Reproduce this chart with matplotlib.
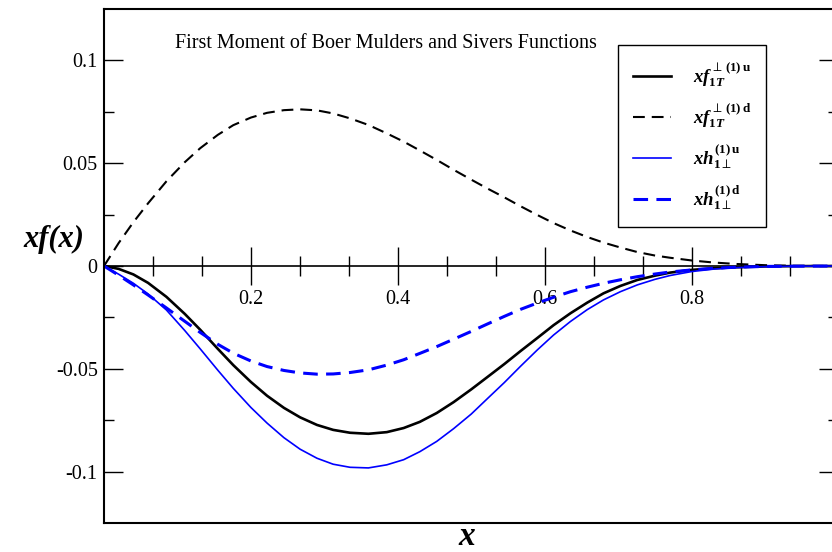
import numpy as np
import matplotlib
matplotlib.use("Agg")
import matplotlib.pyplot as plt
from matplotlib.ticker import FixedLocator

plt.rcParams['font.family'] = ['Liberation Serif', 'DejaVu Serif']
plt.rcParams['mathtext.fontset'] = 'custom'
plt.rcParams['mathtext.it'] = 'Liberation Serif:italic:bold'
plt.rcParams['mathtext.rm'] = 'Liberation Serif:bold'
plt.rcParams['mathtext.bf'] = 'Liberation Serif:bold'
plt.rcParams['lines.scale_dashes'] = False

# values
x = [0, 0.02, 0.04, 0.06, 0.085, 0.11, 0.131, 0.155, 0.176, 0.2, 0.222, 0.245,
     0.267, 0.29, 0.312, 0.335, 0.36, 0.385, 0.408, 0.43, 0.453, 0.476, 0.5,
     0.522, 0.545, 0.567, 0.59, 0.612, 0.635, 0.658, 0.68, 0.703, 0.726, 0.75,
     0.771, 0.8, 0.83, 0.86, 0.9, 0.94, 1.0]

f1t_u = [0, -0.0014, -0.0041, -0.0082, -0.0150, -0.0233, -0.0310, -0.0403, -0.0482,
         -0.0564, -0.0631, -0.0690, -0.0736, -0.0773, -0.0797, -0.0811, -0.0816,
         -0.0808, -0.0788, -0.0758, -0.0715, -0.0662, -0.0600, -0.0540, -0.0477,
         -0.0414, -0.0350, -0.0288, -0.0230, -0.0178, -0.0133, -0.0097, -0.0068,
         -0.0047, -0.0032, -0.0019, -0.0011, -0.0006, -0.0002, -0.00005, 0]

f1t_d = [0, 0.0112, 0.0213, 0.0305, 0.0412, 0.0505, 0.0573, 0.0638, 0.0685, 0.0722,
         0.0745, 0.0758, 0.0762, 0.0757, 0.0742, 0.0718, 0.0686, 0.0645, 0.0605,
         0.0562, 0.0516, 0.0468, 0.0420, 0.0377, 0.0334, 0.0291, 0.0248, 0.0209,
         0.0173, 0.0141, 0.0114, 0.0090, 0.0068, 0.0051, 0.0040, 0.0027, 0.0017,
         0.0010, 0.0004, 0.0001, 0]

h1_u = [0, -0.0040, -0.0084, -0.0136, -0.0214, -0.0314, -0.0403, -0.0507, -0.0595,
        -0.0688, -0.0764, -0.0835, -0.0891, -0.0935, -0.0964, -0.0979, -0.0982,
        -0.0967, -0.0942, -0.0903, -0.0853, -0.0791, -0.0720, -0.0645, -0.0567,
        -0.0488, -0.0408, -0.0336, -0.0270, -0.0212, -0.0165, -0.0125, -0.0092,
        -0.0065, -0.0046, -0.0027, -0.0015, -0.0008, -0.0003, -0.0001, 0]

h1_d = [0, -0.0045, -0.0092, -0.0141, -0.0204, -0.0269, -0.0323, -0.0381, -0.0424,
        -0.0462, -0.0489, -0.0508, -0.0520, -0.0526, -0.0525, -0.0518, -0.0505,
        -0.0482, -0.0456, -0.0425, -0.0392, -0.0356, -0.0318, -0.0282, -0.0245,
        -0.0211, -0.0180, -0.0152, -0.0125, -0.0103, -0.0084, -0.0067, -0.0052,
        -0.0039, -0.0029, -0.0019, -0.0011, -0.0006, -0.0002, -0.0001, 0]

labels = [r'$xf_{\mathit{1T}}^{\perp\,\mathrm{(1)\,u}}$',
          r'$xf_{\mathit{1T}}^{\perp\,\mathrm{(1)\,d}}$',
          r'$xh_{\mathit{1}\perp}^{\mathrm{(1)\,u}}$',
          r'$xh_{\mathit{1}\perp}^{\mathrm{(1)\,d}}$']

xtick_major = [0.2, 0.4, 0.6, 0.8]
xtick_labels = ['0.2', '0.4', '0.6', '0.8']
xtick_minor = [1/15, 2/15, 4/15, 5/15, 7/15, 8/15, 10/15, 11/15, 13/15, 14/15]
ytick_major = [-0.1, -0.05, 0, 0.05, 0.1]
ytick_labels = ['-0.1', '-0.05', '0', '0.05', '0.1']
ytick_minor = [-0.075, -0.025, 0.025, 0.075]

fig = plt.figure(figsize=(8.32, 5.52), dpi=100)
ax = fig.add_axes([0.125, 0.0525, 0.8828, 0.9312])

ax.plot(x, f1t_u, color='black', lw=1.9, label=labels[0])
ax.plot(x, f1t_d, color='black', lw=1.5, dashes=(8.5, 5), label=labels[1])
ax.plot(x, h1_u, color='blue', lw=1.2, label=labels[2])
ax.plot(x, h1_d, color='blue', lw=2.2, dashes=(10.5, 6), label=labels[3])

ax.set_xlim(0, 1)
ax.set_ylim(-0.125, 0.125)
for s in ax.spines.values():
    s.set_linewidth(1.5)

ax.set_xticks([])
ax.tick_params(axis='x', bottom=False, labelbottom=False)
ax.set_yticks(ytick_major, ytick_labels)
ax.yaxis.set_minor_locator(FixedLocator(ytick_minor))
ax.tick_params(axis='y', which='both', direction='in', left=True, right=True,
               labelsize=14.5, pad=4.5, width=1)
ax.tick_params(axis='y', which='major', length=14)
ax.tick_params(axis='y', which='minor', length=7)

# zero axis with ticks crossing it
zx = ax.secondary_xaxis(0, transform=ax.transData)
zx.spines['bottom'].set_linewidth(1.2)
zx.set_xticks(xtick_major, xtick_labels)
zx.xaxis.set_minor_locator(FixedLocator(xtick_minor))
zx.tick_params(axis='x', which='both', direction='inout', width=1,
               labelsize=14.5, pad=3)
zx.tick_params(axis='x', which='major', length=28)
zx.tick_params(axis='x', which='minor', length=15)

ax.set_ylabel('xf(x)', rotation=0, fontsize=22, fontweight='bold',
              fontstyle='italic', va='center', ha='center')
ax.yaxis.set_label_coords(-0.069, 0.552)
ax.set_xlabel('x', fontsize=24, fontweight='bold', fontstyle='italic',
              va='bottom')
ax.xaxis.set_label_coords(0.494, -0.0555)

ax.text(175 / 832, 1 - 47.5 / 552, 'First Moment of Boer Mulders and Sivers Functions',
        transform=fig.transFigure, fontsize=14.5, va='baseline', ha='left')

leg = ax.legend(loc='upper left', bbox_to_anchor=(618 / 832, 1 - 45 / 552),
                bbox_transform=fig.transFigure, borderaxespad=0, fontsize=13.5,
                fancybox=False, edgecolor='black', framealpha=1,
                handlelength=2.0, handletextpad=1.2, borderpad=0.8,
                labelspacing=0.66)
leg.get_frame().set_linewidth(1.0)

fig.savefig('out.png', dpi=100)
